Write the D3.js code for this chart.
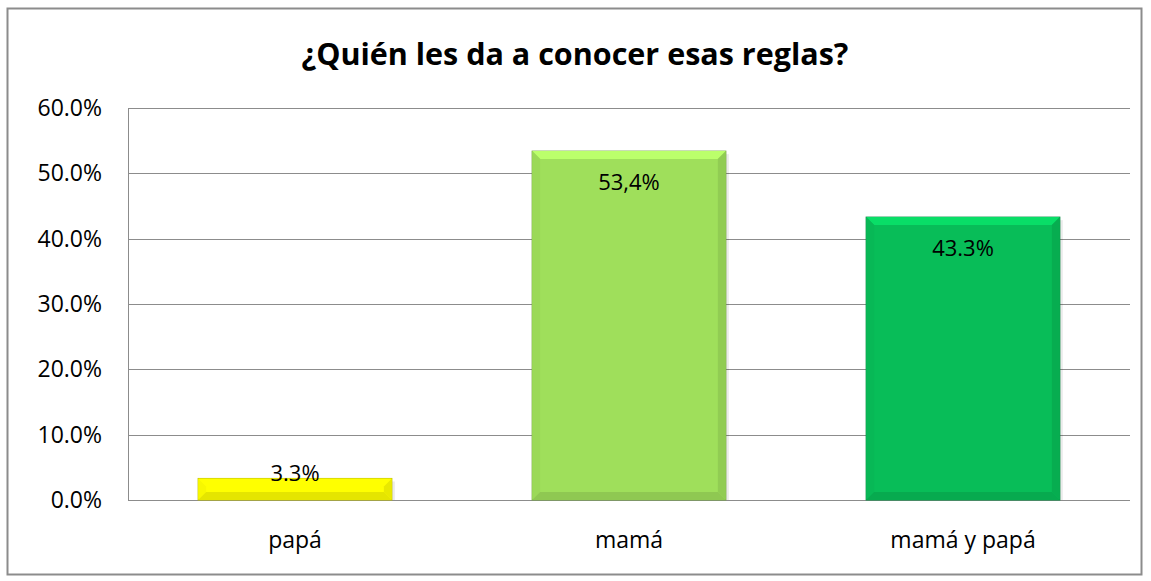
<!DOCTYPE html>
<html>
<head>
<meta charset="utf-8">
<script src="https://cdn.jsdelivr.net/npm/d3@7"></script>
<style>
  html, body { margin: 0; padding: 0; background: #fff; }
  svg { display: block; font-family: "Open Sans", Lato, sans-serif; }
</style>
</head>
<body>
<svg id="chart" width="1151" height="581"></svg>
<script>
// datos del gráfico
const categories = ['papá', 'mamá', 'mamá y papá'];
const values = [3.3, 53.4, 43.3];
const valueLabels = ['3.3%', '53,4%', '43.3%'];
const barColors = ['#ffff00', '#9fdf5b', '#08bd58'];
const yTicks = [0, 10, 20, 30, 40, 50, 60];
const title = '¿Quién les da a conocer esas reglas?';

const svg = d3.select('#chart');
const width = 1151, height = 581;
const font = '"Open Sans", Lato, sans-serif';

// marco exterior
svg.append('rect')
  .attr('x', 7.5).attr('y', 8.5)
  .attr('width', 1134).attr('height', 566)
  .attr('fill', '#fff')
  .attr('stroke', '#8c8c8c')
  .attr('stroke-width', 2);

svg.append('text')
  .text(title)
  .attr('x', 575).attr('y', 65)
  .attr('text-anchor', 'middle')
  .attr('font-size', '30.5px')
  .attr('font-weight', 'bold')
  .attr('fill', '#000');

const margin = { top: 108, right: 21, bottom: 81, left: 128 };
const innerWidth = width - margin.left - margin.right;
const innerHeight = height - margin.top - margin.bottom;

const g = svg.append('g')
  .attr('transform', `translate(${margin.left}, ${margin.top})`);

const xScale = d3.scaleBand()
  .domain(categories)
  .range([0, innerWidth])
  .paddingInner(0.42)
  .paddingOuter(0.21);

const yScale = d3.scaleLinear()
  .domain([0, 60])
  .range([innerHeight, 0]);

// líneas de cuadrícula
g.append('g')
  .selectAll('line')
  .data(yTicks)
  .enter()
  .append('line')
  .attr('x1', 0).attr('x2', innerWidth)
  .attr('y1', d => Math.round(yScale(d)) + 0.5)
  .attr('y2', d => Math.round(yScale(d)) + 0.5)
  .attr('stroke', '#8c8c8c')
  .attr('stroke-width', 1);

// eje y
const yAxis = d3.axisLeft(yScale)
  .tickValues(yTicks)
  .tickFormat(d => d.toFixed(1) + '%')
  .tickSize(0)
  .tickPadding(26);
const yG = g.append('g').call(yAxis);
yG.select('.domain').attr('stroke', '#8c8c8c').attr('d', `M0.5,0V${innerHeight}`);
yG.selectAll('text').attr('font-size', '23px').attr('fill', '#000')
  .attr('font-family', font);

// eje x
const xAxis = d3.axisBottom(xScale).tickSize(0).tickPadding(32);
const xG = g.append('g').attr('transform', `translate(0, ${innerHeight})`).call(xAxis);
xG.select('.domain').remove();
xG.selectAll('text').attr('font-size', '23px').attr('fill', '#000')
  .attr('font-family', font);

// barras con bisel
const bev = 8;
const bars = g.selectAll('.bar')
  .data(values)
  .enter()
  .append('g')
  .attr('class', 'bar');

// sombra suave a la derecha
bars.append('rect')
  .attr('x', (d, i) => xScale(categories[i]) + 3)
  .attr('y', d => yScale(d) + 3)
  .attr('width', xScale.bandwidth())
  .attr('height', d => innerHeight - yScale(d) - 3)
  .attr('fill', '#000')
  .attr('opacity', 0.08);

bars.append('rect')
  .attr('x', (d, i) => xScale(categories[i]))
  .attr('y', d => yScale(d))
  .attr('width', xScale.bandwidth())
  .attr('height', d => innerHeight - yScale(d))
  .attr('fill', (d, i) => barColors[i])
  .attr('stroke', (d, i) => d3.color(barColors[i]).darker(0.9))
  .attr('stroke-width', 1);

function bevelPath(d, i, side) {
  const x0 = xScale(categories[i]), x1 = x0 + xScale.bandwidth();
  const y0 = yScale(d), y1 = innerHeight;
  const b = Math.min(bev, (y1 - y0) / 2);
  if (side === 'top') return `M${x0},${y0}L${x1},${y0}L${x1 - b},${y0 + b}L${x0 + b},${y0 + b}Z`;
  if (side === 'left') return `M${x0},${y0}L${x0 + b},${y0 + b}L${x0 + b},${y1 - b}L${x0},${y1}Z`;
  if (side === 'right') return `M${x1},${y0}L${x1 - b},${y0 + b}L${x1 - b},${y1 - b}L${x1},${y1}Z`;
  return `M${x0},${y1}L${x0 + b},${y1 - b}L${x1 - b},${y1 - b}L${x1},${y1}Z`;
}

bars.append('path').attr('d', (d, i) => bevelPath(d, i, 'top'))
  .attr('fill', (d, i) => d3.color(barColors[i]).brighter(0.45));
bars.append('path').attr('d', (d, i) => bevelPath(d, i, 'left'))
  .attr('fill', (d, i) => d3.color(barColors[i]).darker(0.08));
bars.append('path').attr('d', (d, i) => bevelPath(d, i, 'right'))
  .attr('fill', (d, i) => d3.color(barColors[i]).darker(0.25));
bars.append('path').attr('d', (d, i) => bevelPath(d, i, 'bottom'))
  .attr('fill', (d, i) => d3.color(barColors[i]).darker(0.3));

// etiquetas de datos
bars.append('text')
  .text((d, i) => valueLabels[i])
  .attr('x', (d, i) => xScale(categories[i]) + xScale.bandwidth() / 2)
  .attr('y', d => Math.min(yScale(d) + 39, innerHeight - 19))
  .attr('text-anchor', 'middle')
  .attr('font-size', '22px')
  .attr('fill', '#000');
</script>
</body>
</html>
